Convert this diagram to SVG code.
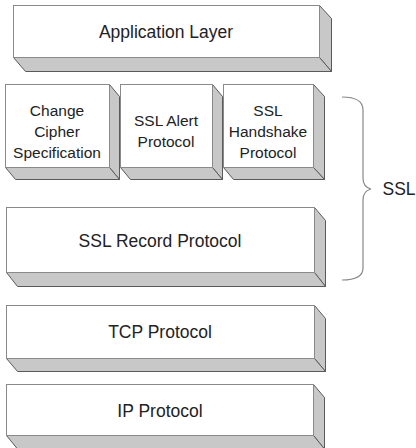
<svg xmlns="http://www.w3.org/2000/svg" width="416" height="448" viewBox="0 0 416 448">
<style>
.front{fill:#ffffff;stroke:#8a8a8a;stroke-width:1}
.side{fill:#c8c8c8;stroke:#5a5a5a;stroke-width:1;stroke-linejoin:round}
.t{font-family:"Liberation Sans",Arial,sans-serif;fill:#222;text-anchor:middle}
.big{font-size:17.5px}
.small{font-size:15.5px}
.brace{fill:none;stroke:#888;stroke-width:1.2}
</style>
<rect width="416" height="448" fill="#ffffff"/>
<g id="app">
<polygon class="side" points="319.5,5.5 331.5,18.5 331.5,71.5 319.5,57.5"/>
<polygon class="side" points="13.5,57.5 319.5,57.5 331.5,71.5 25.5,71.5"/>
<rect class="front" x="13.5" y="5.5" width="306" height="52"/>
<text class="t big" x="166" y="38">Application Layer</text>
</g>
<g id="ccs">
<polygon class="side" points="109.5,84.5 119.5,96.5 119.5,179.5 109.5,167.5"/>
<polygon class="side" points="5.5,167.5 109.5,167.5 119.5,179.5 15.5,179.5"/>
<rect class="front" x="5.5" y="84.5" width="104" height="83"/>
<text class="t small" x="57" y="116">Change</text>
<text class="t small" x="57" y="137">Cipher</text>
<text class="t small" x="57" y="158">Specification</text>
</g>
<g id="alert">
<polygon class="side" points="212.5,84.5 222.5,96.5 222.5,179.5 212.5,167.5"/>
<polygon class="side" points="120.5,167.5 212.5,167.5 222.5,179.5 130.5,179.5"/>
<rect class="front" x="120.5" y="84.5" width="92" height="83"/>
<text class="t small" x="166" y="126">SSL Alert</text>
<text class="t small" x="166" y="147">Protocol</text>
</g>
<g id="handshake">
<polygon class="side" points="313.5,84.5 324.5,96.5 324.5,179.5 313.5,167.5"/>
<polygon class="side" points="223.5,167.5 313.5,167.5 324.5,179.5 233.5,179.5"/>
<rect class="front" x="223.5" y="84.5" width="90" height="83"/>
<text class="t small" x="268" y="116">SSL</text>
<text class="t small" x="268" y="137">Handshake</text>
<text class="t small" x="268" y="158">Protocol</text>
</g>
<g id="record">
<polygon class="side" points="314.5,207.5 325.5,220.5 325.5,286.5 314.5,272.5"/>
<polygon class="side" points="6.5,272.5 314.5,272.5 325.5,286.5 17.5,286.5"/>
<rect class="front" x="6.5" y="207.5" width="308" height="65"/>
<text class="t big" x="160" y="247">SSL Record Protocol</text>
</g>
<g id="tcp">
<polygon class="side" points="314.5,305.5 325.5,318.5 325.5,371.5 314.5,358.5"/>
<polygon class="side" points="6.5,358.5 314.5,358.5 325.5,371.5 17.5,371.5"/>
<rect class="front" x="6.5" y="305.5" width="308" height="53"/>
<text class="t big" x="160" y="338">TCP Protocol</text>
</g>
<g id="ip">
<polygon class="side" points="313.5,384.5 324.5,397.5 324.5,449 313.5,435.5"/>
<polygon class="side" points="6.5,435.5 313.5,435.5 324.5,449 17.5,449"/>
<rect class="front" x="6.5" y="384.5" width="307" height="51"/>
<text class="t big" x="160" y="417">IP Protocol</text>
</g>
<g id="connectors">
<path class="brace" d="M342,97 Q363,97 363,110 L363,178 Q363,187 371,189 Q363,191 363,200 L363,268 Q363,280 342,280"/>
</g>
<g id="ssl-label">
<text class="t big" x="399" y="195">SSL</text>
</g>
</svg>
